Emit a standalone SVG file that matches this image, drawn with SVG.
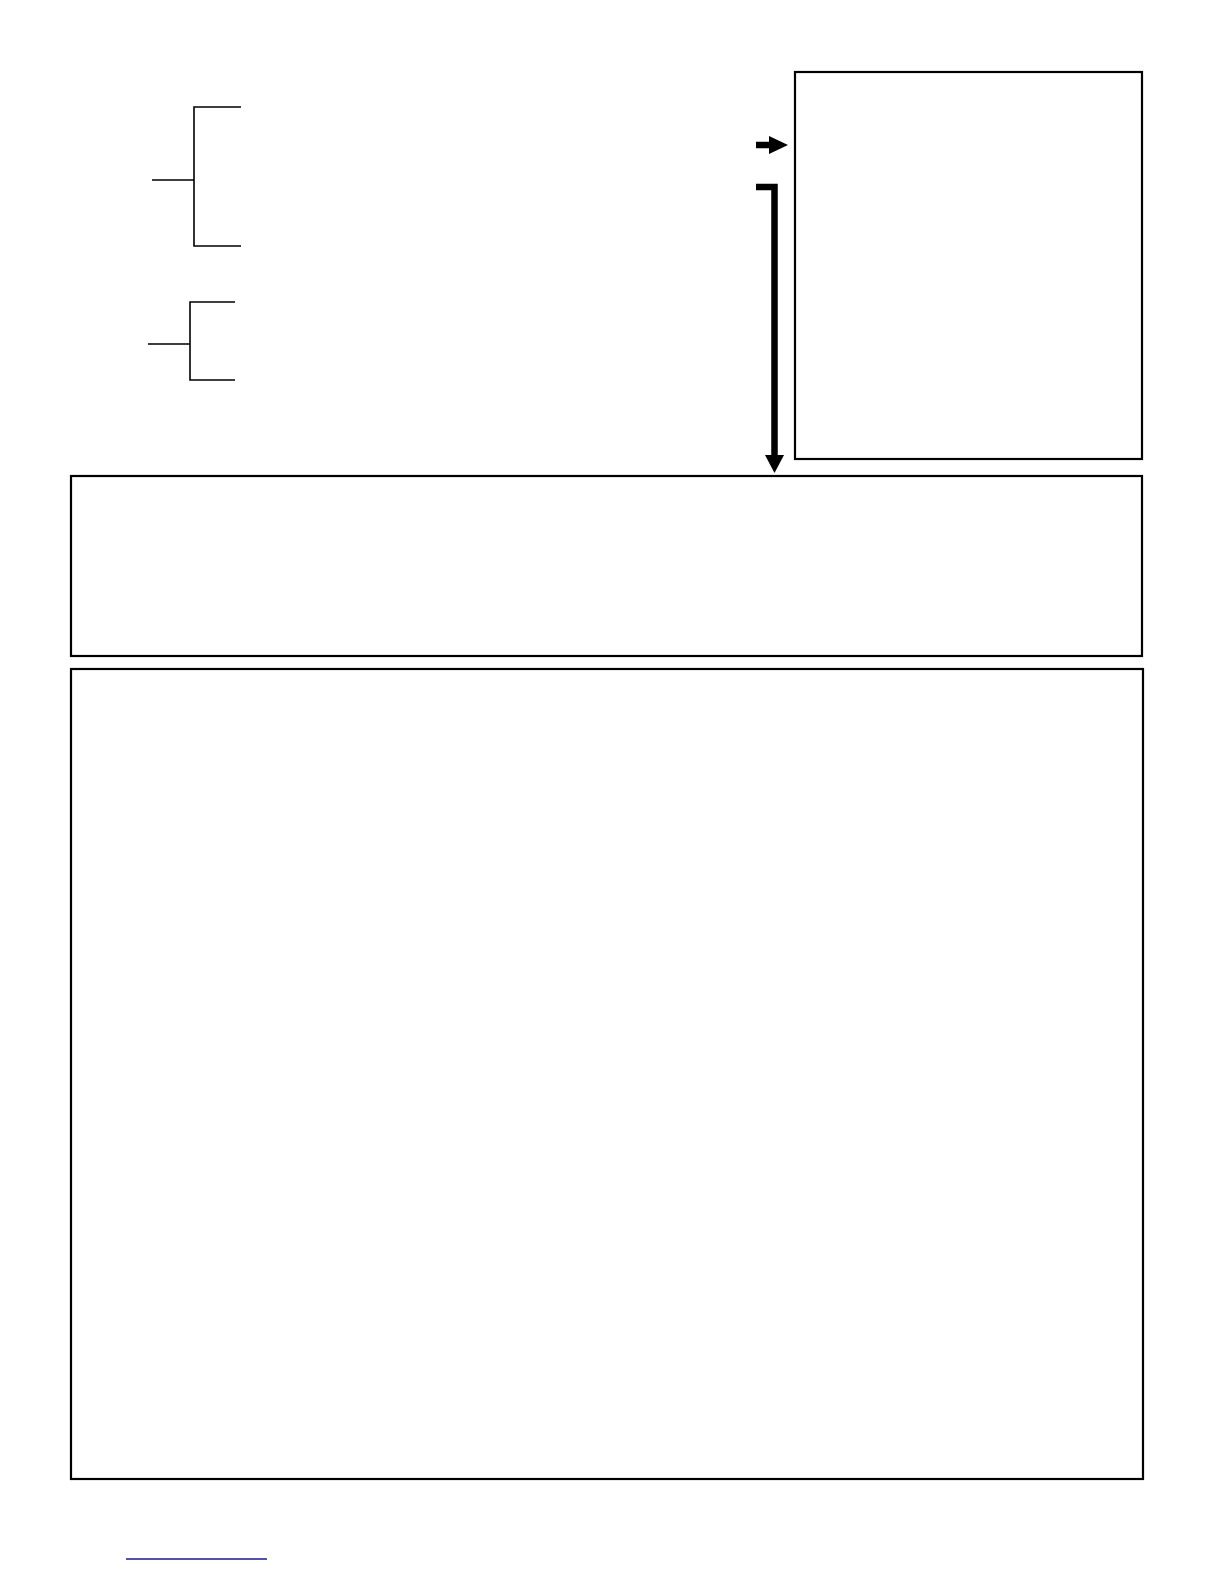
<svg xmlns="http://www.w3.org/2000/svg" width="1224" height="1584" viewBox="0 0 1224 1584">
<style>
.box{fill:none;stroke:#000;stroke-width:2.2}
.br{fill:none;stroke:#000;stroke-width:1.6}
.thick{fill:none;stroke:#000;stroke-width:6.5}
</style>
<rect width="1224" height="1584" fill="#fff"/>
<g id="bracket1"><path class="br" d="M152 180H194M241 107H194V246H241"/></g>
<g id="bracket2"><path class="br" d="M148 344H190M235 302H190V380H235"/></g>
<g id="box-right"><rect class="box" x="795" y="72" width="347" height="387"/></g>
<g id="box-middle"><rect class="box" x="71" y="476" width="1071" height="180"/></g>
<g id="box-bottom"><rect class="box" x="71" y="669" width="1072" height="810"/></g>
<g id="connectors">
<path class="thick" d="M756 145H772"/>
<polygon points="769,136 788,145 769,154" fill="#000"/>
<path class="thick" d="M756 187H774.5V458"/>
<polygon points="765,455 784,455 774.5,473" fill="#000"/>
</g>
<line x1="126" y1="1559" x2="267" y2="1559" stroke="#1a1a8c" stroke-width="1.5"/>
</svg>
